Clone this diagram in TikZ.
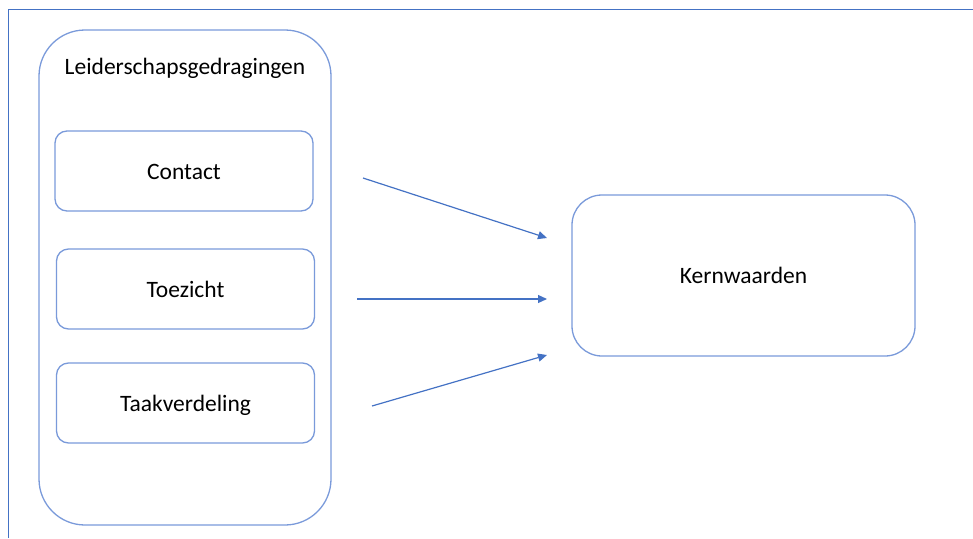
\documentclass[tikz,border=0pt]{standalone}
\usepackage{fontspec}
\setmainfont{Carlito}
\usepackage{xcolor}
\usetikzlibrary{arrows.meta}
\definecolor{frameblue}{HTML}{4472C4}
\definecolor{boxblue}{HTML}{7A9ADA}

\begin{document}
\begin{tikzpicture}[x=1pt, y=-1pt,
      txt/.style={font=\fontsize{23.5}{28}\selectfont, text=black,
        text height=16pt, text depth=0pt},
      group/.style={draw=boxblue, line width=1.3pt, rounded corners=46pt,
        minimum width=292pt, minimum height=495pt, inner sep=0pt},
      item/.style={draw=boxblue, line width=1.3pt, rounded corners=12pt,
        minimum width=258pt, minimum height=80pt, inner sep=0pt, txt},
      target/.style={draw=boxblue, line width=1.3pt, rounded corners=30pt,
        minimum width=343pt, minimum height=161pt, inner sep=0pt, txt},
      link/.style={draw=frameblue, line width=1.2pt, -{Triangle[length=9pt,width=8pt]}}]
      \useasboundingbox (0,0) rectangle (973,538);
      % frame
      \draw[frameblue, line width=1.5pt] (8.5,538) -- (8.5,9.5) -- (973,9.5);
      % left group
      \node[group] (lead) at (185,277.5) {};
      \node[txt] (leadtitle) at (185,66) {Leiderschapsgedragingen};
      \node[item] (contact) at (184,171) {Contact};
      \node[item] (toezicht) at (185.5,289) {Toezicht};
      \node[item] (taak) at (185.5,403) {Taakverdeling};
      % right box
      \node[target] (kern) at (743.5,275.5) {Kernwaarden};
      % arrows
      \coordinate (c1) at (363,178);
      \coordinate (c2) at (357,299);
      \coordinate (c3) at (372,406);
      \coordinate (k1) at (547,238);
      \coordinate (k2) at (547,299);
      \coordinate (k3) at (547,355);
      \draw[link] (c1) -- (k1);
      \draw[link] (c2) -- (k2);
      \draw[link] (c3) -- (k3);
    \end{tikzpicture}
\end{document}
